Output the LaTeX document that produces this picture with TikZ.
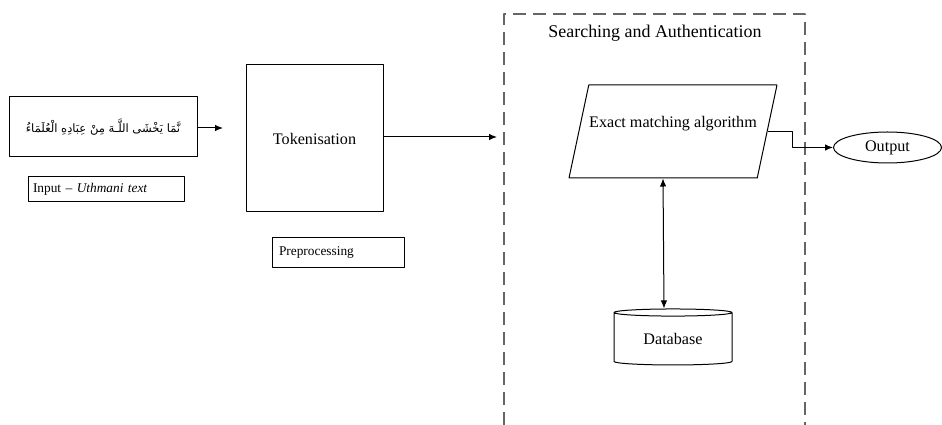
\documentclass[tikz,border=0pt]{standalone}
\usepackage{fontspec}
\setmainfont{Liberation Serif}
\newfontfamily\arabicfont[Script=Arabic]{DejaVu Sans}
\TeXXeTstate=1
\usetikzlibrary{arrows.meta,shapes}

\begin{document}
\begin{tikzpicture}[>={Latex[length=8bp,width=6.5bp]},line join=bevel,
  box/.style={draw,rectangle,inner sep=0pt},
  tag/.style={draw,rectangle,inner xsep=5bp,inner ysep=0pt,font=\fontsize{13.4}{15}\selectfont,align=left},
  main/.style={font=\fontsize{16.2}{19}\selectfont},
]
\pgfsetlinewidth{1bp}
\pgfsetcolor{black}
\useasboundingbox (0bp,0bp) rectangle (942bp,425bp);

% Node: input
\node [box,minimum width=188bp,minimum height=60bp] (input) at (103bp,298bp) {\fontsize{11.6}{14}\arabicfont\beginR نَّمَا يَخْشَى اللَّـهَ مِنْ عِبَادِهِ الْعُلَمَاءُ\endR};
\node [tag,minimum width=156bp,minimum height=25bp,text width=146bp] (inlabel) at (106bp,235.5bp) {Input -- \textit{Uthmani text}};

% Node: tok
\node [box,main,minimum width=137bp,minimum height=147bp] (tok) at (314.5bp,286.5bp) {Tokenisation};
\node [tag,minimum width=132bp,minimum height=30bp,text width=118bp] (prep) at (338bp,172bp) {Preprocessing};

% Searching and Authentication
\draw [dash pattern=on 13bp off 7bp,color=black!60,line width=1.3bp] (504bp,0bp) -- (504bp,411bp) -- (805bp,411bp) -- (805bp,0bp);
\node [font=\fontsize{18}{21}\selectfont] (search) at (655bp,392bp) {Searching and Authentication};

% Node: algo
\node [draw,trapezium,trapezium left angle=78,trapezium right angle=102,trapezium stretches body,minimum width=208bp,minimum height=93bp,inner sep=0pt,main,text height=42.5bp,text depth=50.5bp] (algo) at (673bp,293.5bp) {Exact matching algorithm};

% Node: db
\node [draw,cylinder,shape border rotate=90,aspect=0.12,minimum width=118bp,minimum height=56bp,inner sep=0pt,main] (db) at (673bp,86bp) {Database};

% Node: out
\node [draw,ellipse,minimum width=108bp,minimum height=31bp,inner sep=0pt,main] (out) at (887.5bp,277.5bp) {Output};

% Edge: input -> tok
\coordinate (inend) at (223bp,297bp);
\draw [->] (input.east |- inend) -- (inend);

% Edge: tok -> search
\coordinate (tokend) at (497bp,288bp);
\draw [->] (tok.east |- tokend) -- (tokend);

% Edge: algo -> out
\draw [->] (algo.east) -- ++(25bp,0bp) |- (out.west);

% Edge: algo <-> db
\draw [<->] ([xshift=-10bp]algo.south) -- ([xshift=-9bp]db.north);
%
\end{tikzpicture}
\end{document}
